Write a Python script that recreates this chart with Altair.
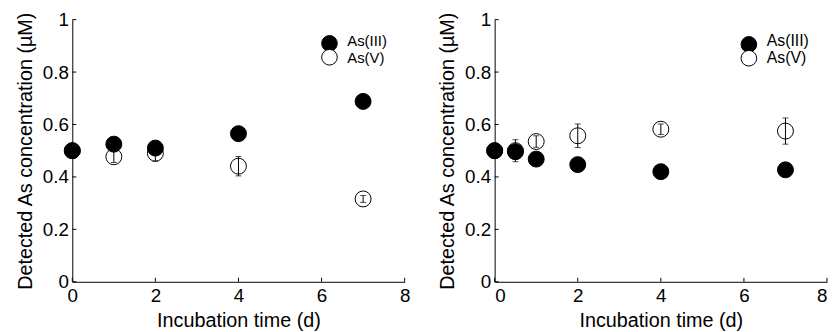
import altair as alt
import pandas as pd

# ---- data ----
legend_labels = ["As(III)", "As(V)"]
legend_fills = ["black", "white"]

# left panel
left_t = [0, 1, 2, 4, 7]
left_as3 = [0.50, 0.525, 0.51, 0.565, 0.688]
left_as3_err = [0.0, 0.0, 0.0, 0.0, 0.0]
left_as5 = [0.50, 0.477, 0.49, 0.441, 0.316]
left_as5_err = [0.0, 0.022, 0.03, 0.037, 0.013]

# right panel
right_t = [0, 0.5, 1, 2, 4, 7]
right_as3 = [0.50, 0.496, 0.468, 0.447, 0.42, 0.427]
right_as3_err = [0.0, 0.0, 0.0, 0.0, 0.0, 0.0]
right_as5 = [0.50, 0.50, 0.535, 0.557, 0.582, 0.575]
right_as5_err = [0.0, 0.042, 0.022, 0.045, 0.02, 0.05]

x_ticks = [0, 2, 4, 6, 8]
y_ticks = [0, 0.2, 0.4, 0.6, 0.8, 1]

FONT = "Liberation Sans"
LFS = 19
TFS = 20
W, H = 336, 265


def make_df(t, as3, as3e, as5, as5e):
    rows = []
    for ti, v, e in zip(t, as5, as5e):
        rows.append({"t": ti, "c": v, "lo": v - e, "hi": v + e, "err": e, "species": "As(V)"})
    for ti, v, e in zip(t, as3, as3e):
        rows.append({"t": ti, "c": v, "lo": v - e, "hi": v + e, "err": e, "species": "As(III)"})
    return pd.DataFrame(rows)


def panel(df, lx, leg_fs, sym_y, txt_y, flush):
    xs = alt.Scale(domain=[0, 8], nice=False)
    ys = alt.Scale(domain=[0, 1], nice=False)
    xax = alt.Axis(values=x_ticks, title="Incubation time (d)", tickSize=0, labelPadding=5,
                   titlePadding=5, grid=False, domainColor="black", labelColor="black",
                   titleColor="black", labelFontSize=LFS, titleFontSize=TFS,
                   labelFont=FONT, titleFont=FONT, titleFontWeight="normal", format="d",
                   labelFlush=flush)
    yax = alt.Axis(values=y_ticks, title="Detected As concentration (µM)", tickSize=0,
                   labelPadding=4, titlePadding=7, grid=False, domainColor="black",
                   labelColor="black", titleColor="black", labelFontSize=LFS,
                   titleFontSize=TFS, labelFont=FONT, titleFont=FONT,
                   titleFontWeight="normal", format="~g")
    base = alt.Chart(df)
    pts = base.mark_point(shape="circle", filled=True, size=260, stroke="black",
                          strokeWidth=1, opacity=1).encode(
        x=alt.X("t:Q", scale=xs, axis=xax),
        y=alt.Y("c:Q", scale=ys, axis=yax),
        fill=alt.Fill("species:N",
                      scale=alt.Scale(domain=legend_labels, range=legend_fills),
                      legend=None),
    )
    errdf = base.transform_filter("datum.err > 0")
    bars = errdf.mark_rule(color="black", strokeWidth=1).encode(
        x="t:Q", y="lo:Q", y2="hi:Q")
    cap_lo = errdf.mark_tick(color="black", thickness=1, size=6, orient="horizontal").encode(
        x="t:Q", y="lo:Q")
    cap_hi = errdf.mark_tick(color="black", thickness=1, size=6, orient="horizontal").encode(
        x="t:Q", y="hi:Q")
    yt = alt.Chart(pd.DataFrame({"v": y_ticks})).mark_rule(color="black").encode(
        y=alt.Y("v:Q", scale=ys), x=alt.value(0), x2=alt.value(4))
    xt = alt.Chart(pd.DataFrame({"v": x_ticks})).mark_rule(color="black").encode(
        x=alt.X("v:Q", scale=xs), y=alt.value(H), y2=alt.value(H - 4))
    # legend (drawn as a key inside the plot area)
    leg = []
    for i, (lab, f) in enumerate(zip(legend_labels, legend_fills)):
        leg.append(alt.Chart(pd.DataFrame({"lab": [lab]})).mark_point(
            shape="circle", filled=True, size=250, fill=f, stroke="black",
            strokeWidth=1, opacity=1).encode(x=alt.value(lx), y=alt.value(sym_y[i])))
        leg.append(alt.Chart(pd.DataFrame({"lab": [lab]})).mark_text(
            align="left", baseline="middle", font=FONT, fontSize=leg_fs, color="black").encode(
            x=alt.value(lx + 18), y=alt.value(txt_y[i]), text="lab:N"))
    return alt.layer(pts, bars, cap_lo, cap_hi, yt, xt, *leg).properties(width=W, height=H)


left = panel(make_df(left_t, left_as3, left_as3_err, left_as5, left_as5_err),
             260, 15, [24, 38], [22, 39], False)
right = panel(make_df(right_t, right_as3, right_as3_err, right_as5, right_as5_err),
              257, 16, [25, 39], [21.5, 38.5], True)

chart = alt.hconcat(left, right, spacing=27).configure_view(
    stroke=None
).configure_axis(domainWidth=1).properties(
    padding={"left": 7, "top": 1, "right": 0, "bottom": 0}, background="white"
)

chart.save("out.html", embed_options={"renderer": "svg", "actions": False})
